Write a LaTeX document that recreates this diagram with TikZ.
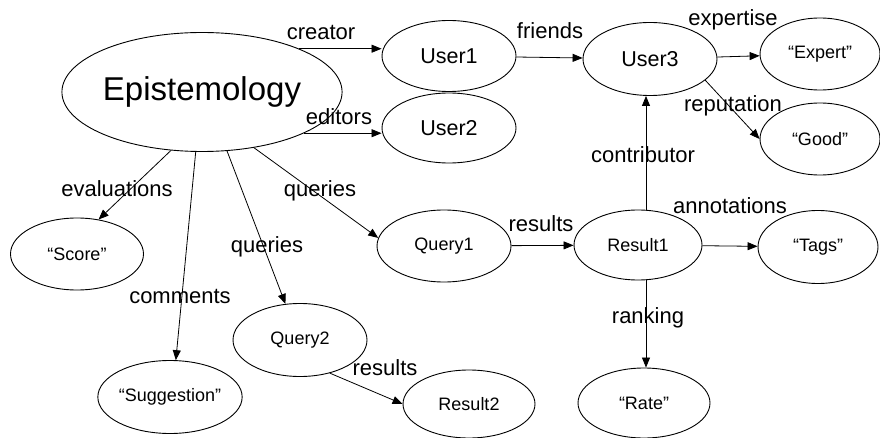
\documentclass[tikz,border=0pt]{standalone}
\usepackage{fontspec}
\setmainfont{Liberation Sans}
\usetikzlibrary{shapes.geometric,arrows.meta}
\tikzset{
  ent/.style={ellipse, draw, line width=0.9pt, inner sep=0pt,
    minimum width=#1, font=\fontsize{18}{20}\selectfont},
  ent/.default=132pt,
  big/.style={font=\fontsize{21.5}{24}\selectfont},
  rel/.style={-{Triangle[length=10pt,width=8pt]}, line width=0.8pt},
  lbl/.style={anchor=base, inner sep=0pt, font=\fontsize{22}{24}\selectfont}
}
\begin{document}
\begin{tikzpicture}[x=1pt,y=-1pt]
\useasboundingbox (0,0) rectangle (880,438);
\fill[white] (0,0) rectangle (880,438);

% entities
\node[ent=219pt, minimum height=119pt, font=\fontsize{33}{36}\selectfont] (epi) at (202,92) {Epistemology};
\node[ent=134pt, minimum height=71pt, big] (user1) at (449,56) {User1};
\node[ent=134pt, minimum height=70pt, big] (user2) at (449,128) {User2};
\node[ent=134pt, minimum height=73pt, big] (user3) at (650,59) {User3};
\node[ent=120pt, minimum height=72pt] (expert) at (820,54) {“Expert”};
\node[ent=120pt, minimum height=72pt] (good) at (820,139) {“Good”};
\node[ent=133pt, minimum height=72pt] (score) at (77,254) {“Score”};
\node[ent=133pt, minimum height=73pt] (sugg) at (170,397) {“Suggestion”};
\node[ent=134pt, minimum height=73pt] (query2) at (300,340) {Query2};
\node[ent=134pt, minimum height=72pt] (query1) at (444,246) {Query1};
\node[ent=128pt, minimum height=70pt] (result1) at (638,245) {Result1};
\node[ent=120pt, minimum height=73pt] (tags) at (818,247) {“Tags”};
\node[ent=132pt, minimum height=70pt] (rate) at (644,403) {“Rate”};
\node[ent=132pt, minimum height=68pt] (result2) at (469,404) {Result2};

% relations
\draw[rel] (epi.24) -- (epi.24 -| user1.west);
\draw[rel] (epi.-22) -- (epi.-22 -| user2.west);
\draw[rel] (user1) -- (user3);
\draw[rel] (user3) -- (expert);
\draw[rel] (user3.-21) -- (good.west);
\draw[rel] ([xshift=8pt]result1.north) -- ([xshift=8pt]result1.north |- user3.south);
\draw[rel] ([xshift=8pt]result1.south) -- ([xshift=8pt]result1.south |- rate.north);
\draw[rel] (result1) -- (tags);
\draw[rel] (query1) -- (result1);
\draw[rel] (epi.-118) -- (score.58);
\draw[rel] (epi.-96) -- (sugg.81);
\draw[rel] (epi.-67) -- (query2.112);
\draw[rel] (epi.-47) -- (query1.173);
\draw[rel] (query2.-48) -- (result2.west);

% relation labels
\node[lbl] (l-creator) at (321,40) {creator};
\node[lbl] (l-editors) at (339,125) {editors};
\node[lbl] (l-friends) at (550,39) {friends};
\node[lbl] (l-expertise) at (733,26) {expertise};
\node[lbl] (l-reputation) at (733,112) {reputation};
\node[lbl] (l-contributor) at (643,163) {contributor};
\node[lbl] (l-evaluations) at (117,197) {evaluations};
\node[lbl] (l-comments) at (180,303) {comments};
\node[lbl] (l-queries2) at (267,253) {queries};
\node[lbl] (l-queries1) at (320,197) {queries};
\node[lbl] (l-results1) at (541,232) {results};
\node[lbl] (l-annotations) at (730,214) {annotations};
\node[lbl] (l-ranking) at (648,323) {ranking};
\node[lbl] (l-results2) at (385,375) {results};
\end{tikzpicture}
\end{document}
